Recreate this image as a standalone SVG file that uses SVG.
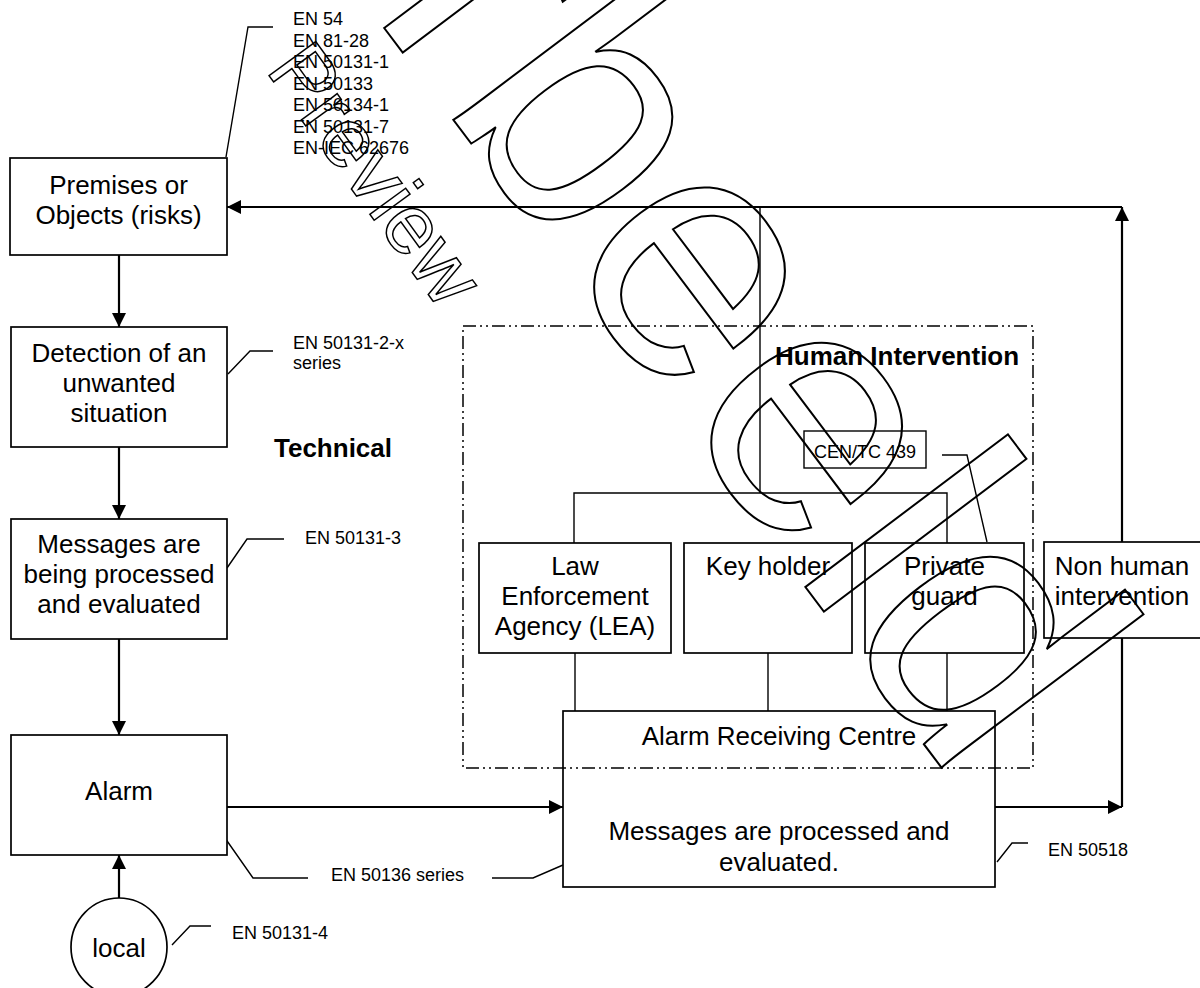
<svg xmlns="http://www.w3.org/2000/svg" width="1200" height="988" viewBox="0 0 1200 988">
<style>
.box{fill:#fff;stroke:#000;stroke-width:1.7}
.t{font-family:"Liberation Sans",Arial,sans-serif;font-size:26px;fill:#000;text-anchor:middle}
.b{font-family:"Liberation Sans",Arial,sans-serif;font-size:26px;font-weight:bold;fill:#000}
.s{font-family:"Liberation Sans",Arial,sans-serif;font-size:18px;fill:#000}
.arr{fill:none;stroke:#000;stroke-width:2.2;marker-end:url(#ah)}
.ln{fill:none;stroke:#000;stroke-width:1.4}
.wm{font-family:"Liberation Sans",Arial,sans-serif;fill:none;stroke:#000}
</style>
<defs>
<marker id="ah" markerUnits="userSpaceOnUse" markerWidth="14" markerHeight="14" viewBox="0 0 14 14" refX="14" refY="7" orient="auto">
<path d="M0,0 L14,7 L0,14 z" fill="#000"/>
</marker>
</defs>
<rect width="1200" height="988" fill="#fff"/>
<g id="connectors">
<line class="arr" x1="119" y1="255" x2="119" y2="327"/>
<line class="arr" x1="119" y1="447" x2="119" y2="519"/>
<line class="arr" x1="119" y1="639" x2="119" y2="735"/>
<line class="arr" x1="119" y1="898" x2="119" y2="855"/>
<line class="arr" x1="227" y1="807" x2="563" y2="807"/>
<line class="arr" x1="995" y1="807" x2="1122" y2="807"/>
<line class="arr" x1="1122" y1="807" x2="1122" y2="207"/>
<line class="arr" x1="1122" y1="207" x2="227" y2="207"/>
<polyline class="ln" points="760,207 760,493"/>
<polyline class="ln" points="574,543 574,493 947,493 947,543"/>
<line class="ln" x1="575" y1="653" x2="575" y2="711"/>
<line class="ln" x1="768" y1="653" x2="768" y2="711"/>
<line class="ln" x1="947" y1="653" x2="947" y2="711"/>
<polyline class="ln" points="226,157 248,27 273,27"/>
<polyline class="ln" points="228,374 250,351 273,351"/>
<polyline class="ln" points="227,568 247,539 284,539"/>
<polyline class="ln" points="225,838 253,878 308,878"/>
<polyline class="ln" points="563,865 533,878 492,878"/>
<polyline class="ln" points="172,945 190,926 211,926"/>
<polyline class="ln" points="997,862 1012,843 1028,843"/>
<polyline class="ln" points="942,455 967,455 987,542"/>
</g>
<g id="premises"><rect class="box" x="10" y="158" width="217" height="97"/><text class="t" x="118.5" y="194">Premises or</text><text class="t" x="118.5" y="224">Objects (risks)</text></g>
<g id="detection"><rect class="box" x="11" y="327" width="216" height="120"/><text class="t" x="119" y="362">Detection of an</text><text class="t" x="119" y="392">unwanted</text><text class="t" x="119" y="422">situation</text></g>
<g id="messages"><rect class="box" x="11" y="519" width="216" height="120"/><text class="t" x="119" y="553">Messages are</text><text class="t" x="119" y="583">being processed</text><text class="t" x="119" y="613">and evaluated</text></g>
<g id="alarm"><rect class="box" x="11" y="735" width="216" height="120"/><text class="t" x="119" y="800">Alarm</text></g>
<g id="local"><ellipse class="box" cx="119" cy="947" rx="48" ry="49"/><text class="t" x="119" y="957">local</text></g>
<g id="lea"><rect class="box" x="479" y="543" width="192" height="110"/><text class="t" x="575" y="575">Law</text><text class="t" x="575" y="605">Enforcement</text><text class="t" x="575" y="635">Agency (LEA)</text></g>
<g id="keyholder"><rect class="box" x="684" y="543" width="168" height="110"/><text class="t" x="768" y="575">Key holder</text></g>
<g id="privateguard"><rect class="box" x="865" y="543" width="159" height="110"/><text class="t" x="944.5" y="575">Private</text><text class="t" x="944.5" y="605">guard</text></g>
<g id="nonhuman"><rect class="box" x="1044" y="542" width="162" height="96"/><text class="t" x="1122" y="575">Non human</text><text class="t" x="1122" y="605">intervention</text></g>
<g id="arc"><rect class="box" x="563" y="711" width="432" height="176"/><text class="t" x="779" y="745">Alarm Receiving Centre</text><text class="t" x="779" y="840">Messages are processed and</text><text class="t" x="779" y="871">evaluated.</text></g>
<g id="cen"><rect class="box" x="804" y="431" width="122" height="37" style="stroke-width:1.4"/><text class="s" x="865" y="458" text-anchor="middle">CEN/TC 439</text></g>
<g id="human-intervention">
<rect x="463" y="326" width="570" height="442" fill="none" stroke="#000" stroke-width="1.5" stroke-dasharray="13 4 2 4 2 4"/>
<text class="b" x="775" y="365">Human Intervention</text>
</g>
<g id="labels">
<text class="b" x="274" y="457">Technical</text>
<text class="s" x="293" y="25">EN 54</text>
<text class="s" x="293" y="46.5">EN 81-28</text>
<text class="s" x="293" y="68">EN 50131-1</text>
<text class="s" x="293" y="89.5">EN 50133</text>
<text class="s" x="293" y="111">EN 50134-1</text>
<text class="s" x="293" y="132.5">EN 50131-7</text>
<text class="s" x="293" y="154">EN-IEC 62676</text>
<text class="s" x="293" y="349">EN 50131-2-x</text>
<text class="s" x="293" y="369">series</text>
<text class="s" x="305" y="544">EN 50131-3</text>
<text class="s" x="331" y="881">EN 50136 series</text>
<text class="s" x="232" y="939">EN 50131-4</text>
<text class="s" x="1048" y="856">EN 50518</text>
</g>
<g id="watermark">
<text class="wm" transform="translate(265,70) rotate(54)" font-size="84" stroke-width="1.5">Preview</text>
<text class="wm" transform="translate(30,-442) rotate(53)" font-size="350" stroke-width="2">voorbeeld</text>
</g>
</svg>
